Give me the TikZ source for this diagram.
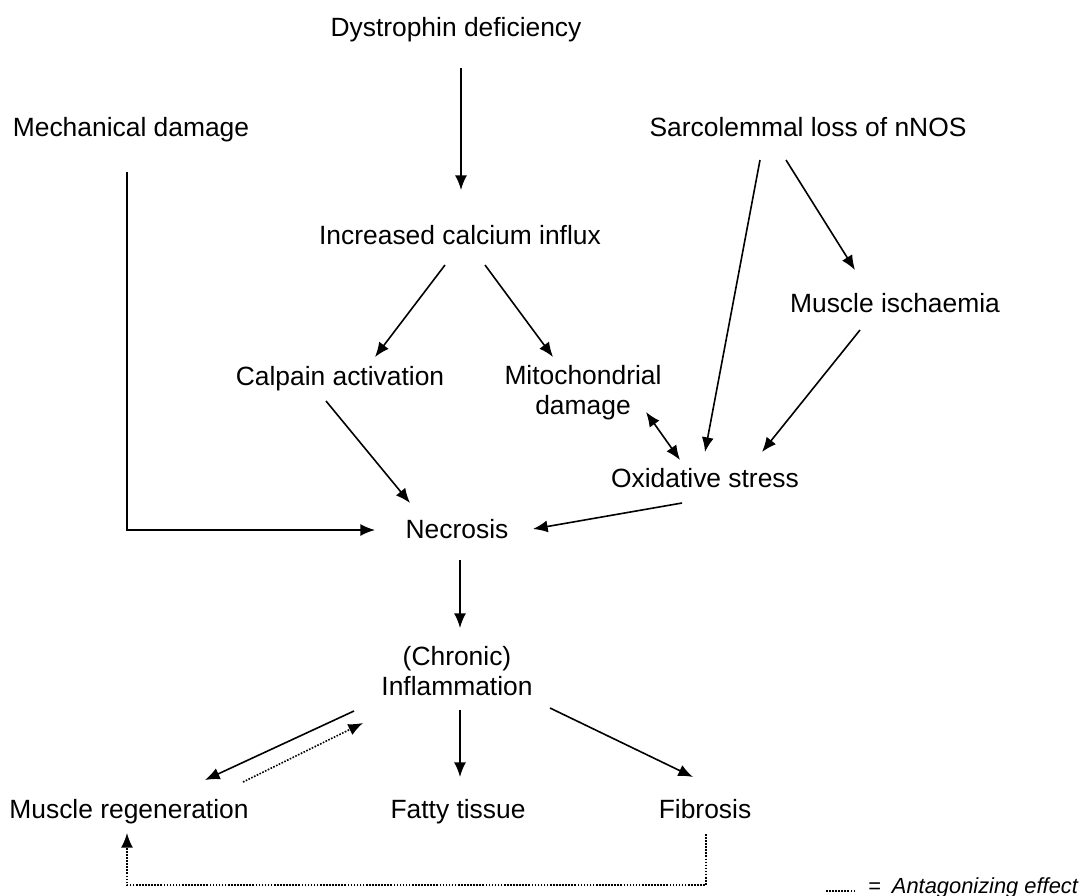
\documentclass[tikz,border=0pt]{standalone}
\usepackage{fontspec}
\setmainfont{Liberation Sans}
\usetikzlibrary{arrows.meta,calc}

\tikzset{
  lbl/.style={anchor=base, inner sep=0pt, align=center, font=\fontsize{19.8}{22.5}\selectfont},
  arr/.style={line width=1.2pt, -{Latex[length=11pt,width=9pt]}},
  both/.style={line width=1.2pt, {Latex[length=11pt,width=9pt]}-{Latex[length=11pt,width=9pt]}},
  antag/.style={line width=1.2pt, dash pattern=on 1.2pt off 1.1pt, -{Latex[length=11pt,width=9pt]}}
}

\begin{document}
\begin{tikzpicture}[x=0.75pt,y=0.75pt,yscale=-1]

    \useasboundingbox (0,0) rectangle (1082,896);

    \draw (456,36) node [lbl] (dys) {Dystrophin deficiency};
    \draw (131,136) node [lbl] (mech) {Mechanical damage};
    \draw (808,136) node [lbl] (sarc) {Sarcolemmal loss of nNOS};
    \draw (460,244) node [lbl] (calc) {Increased calcium influx};
    \draw (895,312) node [lbl] (isch) {Muscle ischaemia};
    \draw (340,385) node [lbl] (calp) {Calpain activation};
    \draw (583,414) node [lbl] (mito) {Mitochondrial\\damage};
    \draw (705,487) node [lbl] (oxi) {Oxidative stress};
    \draw (457,538) node [lbl] (nec) {Necrosis};
    \draw (457,695) node [lbl] (infl) {(Chronic)\\Inflammation};
    \draw (129,818) node [lbl] (regen) {Muscle regeneration};
    \draw (458,818) node [lbl] (fat) {Fatty tissue};
    \draw (705,818) node [lbl] (fib) {Fibrosis};
    \draw (868,893) node [lbl, anchor=base west, font=\fontsize{16.4}{19}\selectfont] (key) {=\enspace\textit{Antagonizing effect}};

    \draw [arr] ($(dys.base)+(5,32)$) -- ($(calc.base)+(1,-54)$);
    \draw [arr] ($(mech.base)+(-4,36)$) |- ($(nec.base)+(-82,-8)$);
    \draw [arr] ($(sarc.base)+(-48,24)$) -- ($(oxi.base)+(0,-35)$);
    \draw [arr] ($(sarc.base)+(-22,24)$) -- ($(isch.base)+(-40,-42)$);
    \draw [arr] ($(isch.base)+(-35,18)$) -- ($(oxi.base)+(57,-35)$);
    \draw [arr] ($(calc.base)+(-15,21)$) -- ($(calp.base)+(35,-28)$);
    \draw [arr] ($(calc.base)+(25,21)$) -- ($(mito.base)+(-30,-57)$);
    \draw [arr] ($(calp.base)+(-14,16)$) -- ($(nec.base)+(-47,-35)$);
    \draw [both] ($(mito.base)+(63,-2)$) -- ($(oxi.base)+(-25,-27)$);
    \draw [arr] ($(oxi.base)+(-23,16)$) -- ($(nec.base)+(76,-9)$);
    \draw [arr] ($(nec.base)+(3,22)$) -- ($(infl.base)+(3,-67)$);
    \draw [arr] ($(infl.base)+(-103,16)$) -- ($(regen.base)+(76,-38)$);
    \draw [antag] ($(regen.base)+(114,-36)$) -- ($(infl.base)+(-94,28)$);
    \draw [arr] ($(infl.base)+(3,15)$) -- ($(fat.base)+(2,-41)$);
    \draw [arr] ($(infl.base)+(93,13)$) -- ($(fib.base)+(-12,-41)$);
    \draw [antag] ($(fib.base)+(1,16)$) -- ($(fib.base)+(1,67)$) -| ($(regen.base)+(-2,15)$);

    % key
    \draw [line width=1.2pt, dash pattern=on 1.2pt off 1.1pt] ($(key.base west)+(-42,-2)$) -- ($(key.base west)+(-13,-2)$);

\end{tikzpicture}
\end{document}
